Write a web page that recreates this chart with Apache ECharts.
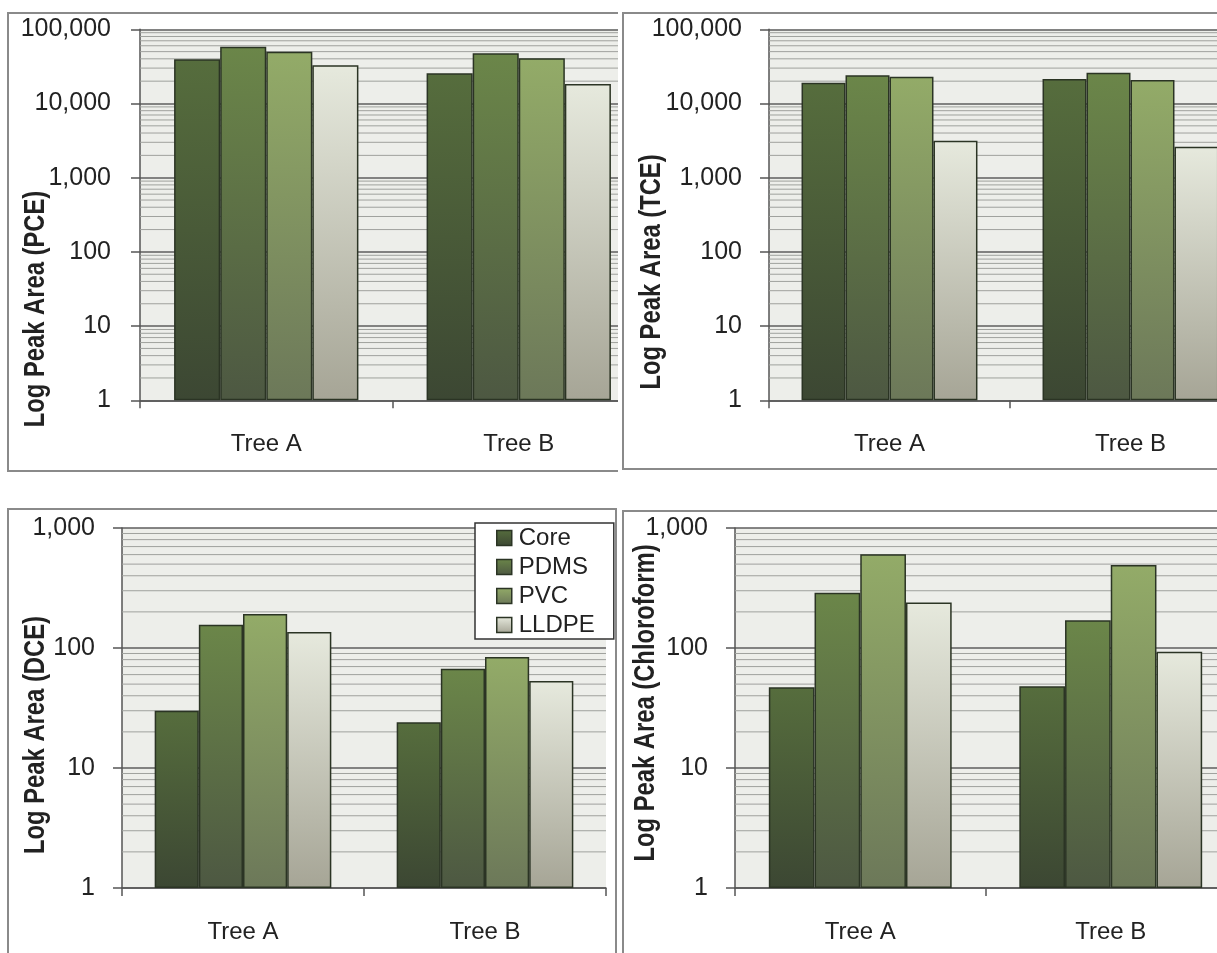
<!DOCTYPE html>
<html><head><meta charset="utf-8">
<script src="https://cdn.jsdelivr.net/npm/echarts@6/dist/echarts.min.js"></script>
<style>
html,body{margin:0;padding:0;background:#fff;width:1217px;height:953px;overflow:hidden;}
.panel{position:absolute;border:2px solid #8a8a8a;overflow:hidden;background:#fff;box-sizing:border-box;}
.chart{position:absolute;width:1300px;height:1000px;}
</style></head><body>
<div class="panel" style="left:7px;top:12px;width:611px;height:460px;border-right:none"><div class="chart" id="c1" style="left:-9px;top:-14px"></div></div>
<div class="panel" style="left:622px;top:12px;width:620px;height:458px;border-right:none"><div class="chart" id="c2" style="left:-624px;top:-14px"></div></div>
<div class="panel" style="left:7px;top:508px;width:610px;height:470px;border-bottom:none"><div class="chart" id="c3" style="left:-9px;top:-510px"></div></div>
<div class="panel" style="left:622px;top:510px;width:620px;height:470px;border-right:none;border-bottom:none"><div class="chart" id="c4" style="left:-624px;top:-512px"></div></div>
<script>
// ---- data ----
const categories = ['Tree A', 'Tree B'];
const seriesNames = ['Core', 'PDMS', 'PVC', 'LLDPE'];
// values per series: [Tree A, Tree B]
const pceCore  = [39400, 25500];
const pcePDMS  = [58300, 47500];
const pcePVC   = [49900, 40600];
const pceLLDPE = [32700, 18300];
const tceCore  = [19000, 21400];
const tcePDMS  = [24000, 26000];
const tcePVC   = [23000, 20700];
const tceLLDPE = [3150, 2620];
const dceCore  = [30, 24];
const dcePDMS  = [156, 67];
const dcePVC   = [192, 84];
const dceLLDPE = [136, 53];
const chlCore  = [47, 48];
const chlPDMS  = [288, 170];
const chlPVC   = [605, 492];
const chlLLDPE = [239, 93];
const yTicksTop = [1, 10, 100, 1000, 10000, 100000];
const yTicksBottom = [1, 10, 100, 1000];

// ---- styles ----
const barColors = [
  ['#566d3d', '#3c4733'],
  ['#6b8649', '#4d5842'],
  ['#93ab68', '#6c7859'],
  ['#e6e9dd', '#a6a596']
];
const FONT = '"Liberation Sans", Arial, sans-serif';

function grad(c) {
  return {type: 'linear', x: 0, y: 0, x2: 0, y2: 1, colorStops: [{offset: 0, color: c[0]}, {offset: 1, color: c[1]}]};
}
function minorSeries(ticks) {
  const d = [];
  for (let i = 0; i < ticks.length - 1; i++) {
    for (let m = 2; m <= 9; m++) d.push([0, ticks[i] * m]);
  }
  return {
    type: 'custom', z: 1, silent: true, data: d, encode: {x: 0, y: 1},
    renderItem: function (params, api) {
      const y = api.coord([0, api.value(1)])[1];
      const cs = params.coordSys;
      return {type: 'line', shape: {x1: cs.x, y1: y, x2: cs.x + cs.width, y2: y},
        style: {stroke: '#9fa19d', lineWidth: 1}};
    }
  };
}
function makeChart(id, cfg) {
  const chart = echarts.init(document.getElementById(id), null, {renderer: 'canvas'});
  const ticks = cfg.ticks;
  const series = [minorSeries(ticks)];
  cfg.values.forEach(function (vals, i) {
    series.push({
      name: seriesNames[i], type: 'bar', z: 3, data: vals,
      barGap: '0%', barCategoryGap: '27%',
      itemStyle: {color: grad(barColors[i]), borderColor: '#2b3424', borderWidth: 1.5}
    });
  });
  const option = {
    animation: false,
    grid: Object.assign({show: true, backgroundColor: '#edeeea', borderWidth: 0, containLabel: false, outerBoundsMode: 'none'}, cfg.grid),
    xAxis: {
      type: 'category', data: categories,
      axisLine: {show: true, lineStyle: {color: '#555', width: 1.5}},
      axisTick: {show: true, interval: 0, length: 8, lineStyle: {color: '#555', width: 1.5}},
      axisLabel: {margin: 32, color: '#222', fontSize: 24, fontFamily: FONT},
      splitLine: {show: false}
    },
    yAxis: {
      type: 'log', logBase: 10, min: ticks[0], max: ticks[ticks.length - 1],
      axisLine: {show: true, lineStyle: {color: '#555', width: 1.5}},
      axisTick: {show: true, length: 9, lineStyle: {color: '#555', width: 1.5}},
      axisLabel: {margin: cfg.labelMargin, color: '#222', fontSize: 25, fontFamily: FONT,
        formatter: function (v) { return Math.round(v).toLocaleString('en-US'); }},
      splitLine: {show: true, lineStyle: {color: '#5e5e5e', width: 1.5}}
    },
    graphic: [{
      type: 'text', x: cfg.title[0], y: cfg.title[1], rotation: Math.PI / 2, scaleX: 0.82,
      style: {text: cfg.title[2], font: 'bold 29px ' + FONT, fill: '#222', align: 'center', verticalAlign: 'middle'}
    }],
    series: series
  };
  if (cfg.legend) {
    option.legend = {
      data: seriesNames, orient: 'vertical', left: 475, top: 523,
      padding: [3, 19, 2, 21], itemGap: 5, itemWidth: 15, itemHeight: 15, icon: 'rect',
      backgroundColor: '#fff', borderColor: '#333', borderWidth: 1.5,
      textStyle: {fontSize: 24, fontFamily: FONT, color: '#222', padding: [0, 0, 0, 2]},
      itemStyle: {borderColor: '#2b3424', borderWidth: 1.5}
    };
  }
  chart.setOption(option);
}

makeChart('c1', {grid: {left: 140, top: 29.3, width: 505, height: 371}, ticks: yTicksTop, labelMargin: 29,
  values: [pceCore, pcePDMS, pcePVC, pceLLDPE], title: [36, 309, 'Log Peak Area (PCE)']});
makeChart('c2', {grid: {left: 769, top: 29.3, width: 482, height: 371}, ticks: yTicksTop, labelMargin: 27,
  values: [tceCore, tcePDMS, tcePVC, tceLLDPE], title: [652, 272, 'Log Peak Area (TCE)']});
makeChart('c3', {grid: {left: 122, top: 528, width: 484, height: 360}, ticks: yTicksBottom, labelMargin: 27,
  values: [dceCore, dcePDMS, dcePVC, dceLLDPE], title: [36, 735, 'Log Peak Area (DCE)'], legend: true});
makeChart('c4', {grid: {left: 735, top: 528, width: 501, height: 360}, ticks: yTicksBottom, labelMargin: 27,
  values: [chlCore, chlPDMS, chlPVC, chlLLDPE], title: [646, 703, 'Log Peak Area (Chloroform)']});
</script>
</body></html>
